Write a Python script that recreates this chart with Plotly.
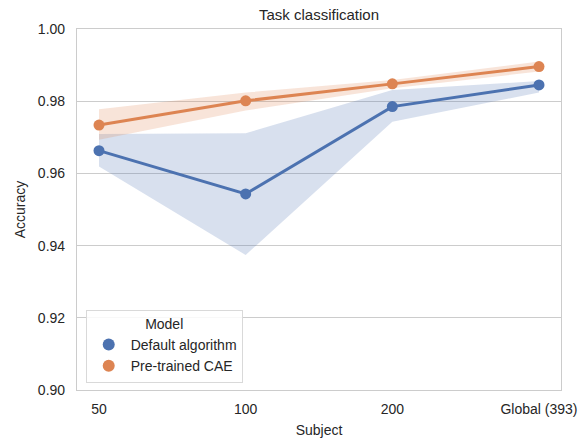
import plotly.graph_objects as go

categories = ["50", "100", "200", "Global (393)"]
default_mean = [0.9663, 0.9543, 0.9785, 0.9845]
default_lo = [0.9619, 0.9374, 0.9743, 0.9824]
default_hi = [0.9709, 0.9711, 0.9831, 0.9856]
cae_mean = [0.9734, 0.9801, 0.9848, 0.9896]
cae_lo = [0.9693, 0.9774, 0.9836, 0.9882]
cae_hi = [0.9778, 0.9824, 0.9859, 0.9910]
y_ticks = [0.90, 0.92, 0.94, 0.96, 0.98, 1.00]

BLUE = "#4c72b0"
ORANGE = "#dd8452"
x = list(range(len(categories)))

fig = go.Figure()

def add_series(name, mean, lo, hi, color, fillc):
    fig.add_trace(go.Scatter(x=x + x[::-1], y=hi + lo[::-1], fill="toself",
                             fillcolor=fillc, line=dict(color="rgba(0,0,0,0)", width=0),
                             hoverinfo="skip", showlegend=False))
    fig.add_trace(go.Scatter(x=x, y=mean, mode="lines+markers", name=name,
                             line=dict(color=color, width=3),
                             marker=dict(color=color, size=11), showlegend=False))
    fig.add_trace(go.Scatter(x=[None], y=[None], mode="markers", name=name,
                             marker=dict(color=color, size=11)))

add_series("Default algorithm", default_mean, default_lo, default_hi, BLUE, "rgba(76,114,176,0.22)")
add_series("Pre-trained CAE", cae_mean, cae_lo, cae_hi, ORANGE, "rgba(221,132,82,0.22)")

fig.update_layout(
    width=579, height=438,
    margin=dict(l=77, r=18, t=29, b=48, autoexpand=False),
    paper_bgcolor="white", plot_bgcolor="white",
    font=dict(family="Liberation Sans, Arial", size=14, color="#262626"),
    title=dict(text="Task classification", x=0.5, xref="paper", xanchor="center",
               y=1 - 15 / 438, yanchor="middle", font=dict(size=15, color="#262626")),
    legend=dict(x=0.018, y=0.02, xanchor="left", yanchor="bottom",
                bgcolor="rgba(255,255,255,0.85)", bordercolor="#d9d9d9", borderwidth=1,
                title=dict(text="Model", side="top center", font=dict(size=14)),
                font=dict(size=14), itemsizing="constant", itemwidth=34),
)
fig.update_xaxes(range=[-0.15, 3.15], tickmode="array", tickvals=x, ticktext=categories,
                 showgrid=False, zeroline=False, showline=True, mirror=True,
                 linecolor="#cccccc", linewidth=1.2, ticks="", ticklen=0, automargin=False,
                 ticklabelstandoff=6,
                 title=dict(text="Subject", standoff=9, font=dict(size=14)),
                 tickfont=dict(size=14))
fig.update_yaxes(range=[0.90, 1.00], tickmode="array", tickvals=y_ticks,
                 ticktext=[f"{v:.2f}" for v in y_ticks], automargin=False,
                 ticklabelstandoff=8,
                 showgrid=True, gridcolor="#cccccc", gridwidth=1, zeroline=False,
                 showline=True, mirror=True, linecolor="#cccccc", linewidth=1.2,
                 title=dict(text="Accuracy", standoff=8, font=dict(size=14)),
                 tickfont=dict(size=14))

fig.write_html("out.html", config={"displayModeBar": False},
               post_script="document.body.style.margin='0';document.body.style.overflow='hidden';")
